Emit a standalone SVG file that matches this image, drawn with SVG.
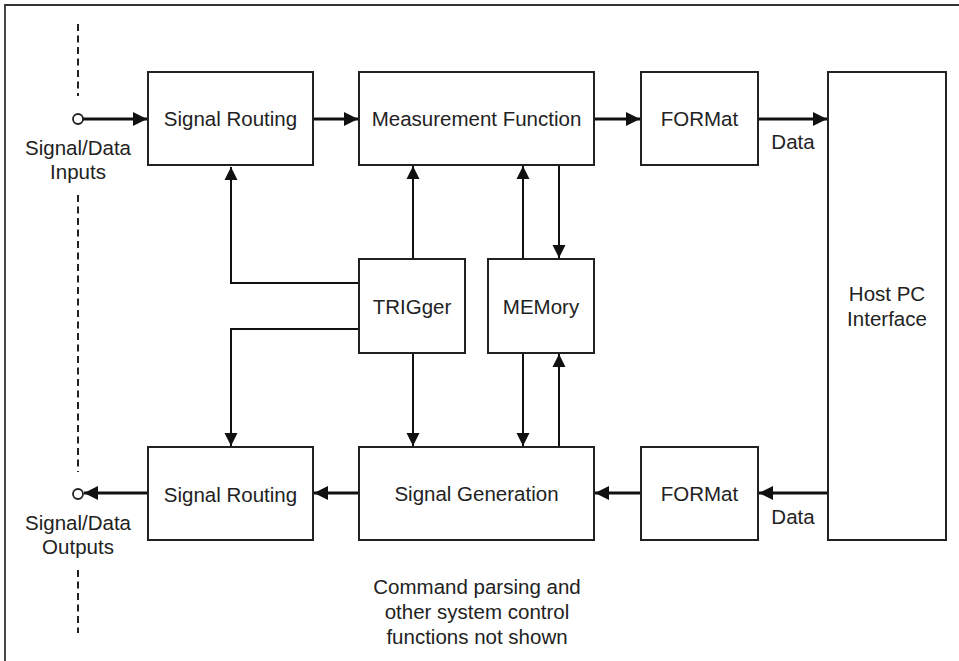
<svg xmlns="http://www.w3.org/2000/svg" width="959" height="661" viewBox="0 0 959 661">
<style>
.box{fill:#fff;stroke:#222;stroke-width:2}
.lbl{font-family:"Liberation Sans",Arial,sans-serif;font-size:20.5px;fill:#222;text-anchor:middle;dominant-baseline:central}
.thick{stroke:#111;stroke-width:3;fill:none}
.thin{stroke:#111;stroke-width:2;fill:none}
.dash{stroke:#222;stroke-width:2;stroke-dasharray:7,4.5;fill:none}
</style>
<defs>
<marker id="ah" markerUnits="userSpaceOnUse" markerWidth="16" markerHeight="16" viewBox="0 0 16 16" refX="14" refY="8" orient="auto">
<path d="M0,1 L14,8 L0,15 Z" fill="#111"/>
</marker>
<marker id="ahs" markerUnits="userSpaceOnUse" markerWidth="14" markerHeight="14" viewBox="0 0 14 14" refX="13" refY="7" orient="auto">
<path d="M0,0.5 L13,7 L0,13.5 Z" fill="#111"/>
</marker>
</defs>
<rect width="959" height="661" fill="#fff"/>
<path d="M5,661 V5 H959" fill="none" stroke="#333" stroke-width="1.8"/>
<g id="dashes">
<path class="dash" d="M78,24 V96"/>
<path class="dash" d="M78,195 V472"/>
<path class="dash" d="M78,570 V633"/>
</g>
<g id="io-labels">
<circle cx="78" cy="119" r="5" fill="#fff" stroke="#222" stroke-width="1.8"/>
<text class="lbl" x="78" y="147">Signal/Data</text>
<text class="lbl" x="78" y="171">Inputs</text>
<circle cx="78" cy="494" r="5" fill="#fff" stroke="#222" stroke-width="1.8"/>
<text class="lbl" x="78" y="522">Signal/Data</text>
<text class="lbl" x="78" y="546">Outputs</text>
</g>
<g id="connectors">
<path class="thick" d="M83,119 H147" marker-end="url(#ah)"/>
<path class="thick" d="M313,119 H358" marker-end="url(#ah)"/>
<path class="thick" d="M594,119 H640" marker-end="url(#ah)"/>
<path class="thick" d="M758,119 H827" marker-end="url(#ah)"/>
<path class="thick" d="M828,493 H759" marker-end="url(#ah)"/>
<path class="thick" d="M641,493 H595" marker-end="url(#ah)"/>
<path class="thick" d="M359,493 H314" marker-end="url(#ah)"/>
<path class="thick" d="M148,493 H84" marker-end="url(#ah)"/>
<path class="thin" d="M359,283 H231 V167" marker-end="url(#ahs)"/>
<path class="thin" d="M359,329 H231 V446" marker-end="url(#ahs)"/>
<path class="thin" d="M413,259 V166" marker-end="url(#ahs)"/>
<path class="thin" d="M413,353 V446" marker-end="url(#ahs)"/>
<path class="thin" d="M523,259 V166" marker-end="url(#ahs)"/>
<path class="thin" d="M559,165 V258" marker-end="url(#ahs)"/>
<path class="thin" d="M523,353 V446" marker-end="url(#ahs)"/>
<path class="thin" d="M559,447 V354" marker-end="url(#ahs)"/>
</g>
<g id="signal-routing-in"><rect class="box" x="148" y="72" width="165" height="93"/><text class="lbl" x="230.5" y="118">Signal Routing</text></g>
<g id="measurement"><rect class="box" x="359" y="72" width="235" height="93"/><text class="lbl" x="476.5" y="118">Measurement Function</text></g>
<g id="format-top"><rect class="box" x="641" y="72" width="117" height="93"/><text class="lbl" x="699.5" y="118">FORMat</text></g>
<g id="host-pc"><rect class="box" x="828" y="72" width="118" height="468"/><text class="lbl" x="887" y="293">Host PC</text><text class="lbl" x="887" y="318">Interface</text></g>
<g id="trigger"><rect class="box" x="359" y="259" width="106" height="94"/><text class="lbl" x="412" y="306">TRIGger</text></g>
<g id="memory"><rect class="box" x="488" y="259" width="106" height="94"/><text class="lbl" x="541" y="306">MEMory</text></g>
<g id="signal-routing-out"><rect class="box" x="148" y="447" width="165" height="93"/><text class="lbl" x="230.5" y="494">Signal Routing</text></g>
<g id="signal-generation"><rect class="box" x="359" y="447" width="235" height="93"/><text class="lbl" x="476.5" y="493">Signal Generation</text></g>
<g id="format-bottom"><rect class="box" x="641" y="447" width="117" height="93"/><text class="lbl" x="699.5" y="493">FORMat</text></g>
<g id="data-labels">
<text class="lbl" x="793" y="141">Data</text>
<text class="lbl" x="793" y="516">Data</text>
</g>
<g id="caption">
<text class="lbl" x="477" y="586">Command parsing and</text>
<text class="lbl" x="477" y="611">other system control</text>
<text class="lbl" x="477" y="636">functions not shown</text>
</g>
</svg>
